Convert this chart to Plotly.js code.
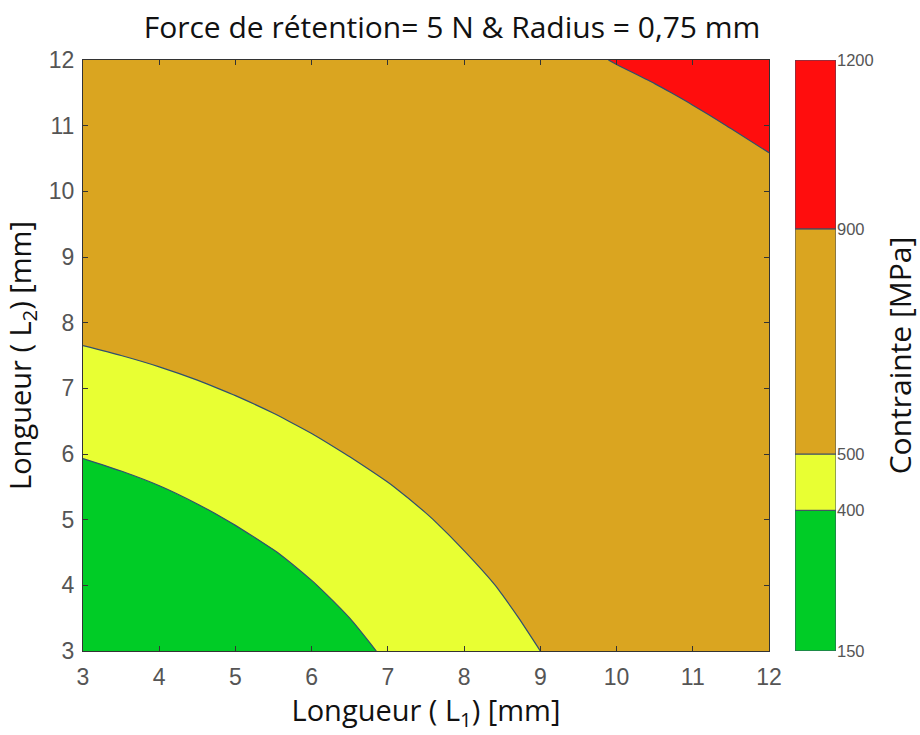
<!DOCTYPE html>
<html>
<head>
<meta charset="utf-8">
<script src="https://cdn.plot.ly/plotly-3.0.1.min.js"></script>
<style>html,body{margin:0;padding:0;background:#fff;}</style>
</head>
<body>
<div id="chart" style="width:920px;height:735px;"></div>
<script>
// Lengths L1 (x) and L2 (y), in mm
const L1 = [3, 3.5, 4, 4.5, 5, 5.5, 6, 6.5, 7, 7.5, 8, 8.5, 9, 9.5, 10, 10.5, 11, 11.5, 12];
const L2 = [3, 3.5, 4, 4.5, 5, 5.5, 6, 6.5, 7, 7.5, 8, 8.5, 9, 9.5, 10, 10.5, 11, 11.5, 12];
// Stress [MPa], one row per L2 value
const stress = [
  [242, 260, 278, 298, 318, 340, 361, 384, 407, 430, 453, 477, 500, 524, 549, 573, 597, 622, 647],
  [267, 283, 300, 318, 337, 358, 378, 400, 422, 444, 467, 490, 513, 536, 560, 584, 608, 632, 656],
  [293, 307, 323, 340, 358, 377, 397, 418, 438, 460, 482, 504, 527, 550, 573, 596, 620, 643, 667],
  [320, 333, 348, 364, 381, 398, 417, 437, 457, 477, 499, 520, 542, 564, 587, 610, 633, 656, 679],
  [347, 359, 373, 388, 404, 421, 439, 457, 476, 496, 517, 538, 559, 580, 602, 625, 647, 670, 693],
  [375, 387, 399, 413, 428, 444, 461, 479, 497, 516, 536, 556, 577, 598, 619, 641, 663, 685, 707],
  [404, 414, 426, 439, 453, 469, 485, 502, 519, 537, 556, 576, 596, 616, 637, 658, 679, 701, 723],
  [433, 442, 454, 466, 479, 494, 509, 525, 542, 559, 578, 596, 616, 635, 655, 676, 697, 718, 739],
  [462, 471, 481, 493, 506, 519, 534, 549, 565, 582, 600, 618, 636, 655, 675, 695, 715, 736, 757],
  [491, 500, 510, 521, 533, 546, 560, 574, 590, 606, 623, 640, 658, 676, 695, 715, 734, 755, 775],
  [521, 529, 538, 549, 560, 572, 586, 600, 615, 630, 646, 663, 680, 698, 717, 735, 755, 774, 794],
  [550, 558, 567, 577, 588, 600, 612, 626, 640, 655, 670, 687, 703, 721, 738, 757, 775, 794, 814],
  [580, 588, 596, 606, 616, 627, 639, 652, 666, 680, 695, 711, 727, 744, 761, 779, 797, 815, 834],
  [610, 617, 625, 634, 644, 655, 667, 679, 692, 706, 720, 735, 751, 767, 784, 801, 819, 837, 856],
  [640, 647, 655, 663, 673, 683, 694, 706, 719, 732, 746, 761, 776, 791, 808, 824, 842, 859, 877],
  [671, 677, 684, 693, 702, 712, 722, 734, 746, 759, 772, 786, 801, 816, 832, 848, 865, 879, 896],
  [701, 707, 714, 722, 731, 740, 750, 761, 773, 785, 799, 812, 826, 841, 856, 872, 885, 902, 919],
  [731, 737, 744, 751, 760, 769, 779, 789, 801, 813, 825, 838, 852, 867, 881, 893, 909, 925, 942],
  [762, 767, 774, 781, 789, 798, 807, 818, 829, 840, 852, 865, 878, 889, 903, 918, 933, 949, 965]
];
// Colour bands: limits and colours
const bandLimits = [150, 400, 500, 900, 1200];
const bandColors = ['#00cc26', '#e8ff33', '#daa520', '#ff0d0d'];
const tickValsL = [3, 4, 5, 6, 7, 8, 9, 10, 11, 12];
const tickLabelsL = ['3', '4', '5', '6', '7', '8', '9', '10', '11', '12'];

const lineColor = '#2f4f6f';
const traces = [];
// each band: fill the region z >= its lower limit (constraint "<" shades the violating side)
for (let i = 0; i < bandColors.length; i++) {
  traces.push({
    type: 'contour', x: L1, y: L2, z: stress,
    contours: {type: 'constraint', operation: '<', value: bandLimits[i]},
    fillcolor: bandColors[i],
    line: {color: lineColor, width: i === 0 ? 0 : 1.2, smoothing: 0.6},
    showscale: false, hoverinfo: 'skip', xaxis: 'x', yaxis: 'y'
  });
}
// Colour bar drawn as stacked bar segments
traces.push({
  type: 'bar', x: bandColors.map(() => 'cb'),
  base: bandLimits.slice(0, -1),
  y: bandLimits.slice(1).map((v, i) => v - bandLimits[i]),
  marker: {color: bandColors, line: {color: '#3a4a66', width: 1}},
  xaxis: 'x2', yaxis: 'y2', hoverinfo: 'skip', width: 1
});

const tickFont = {family: 'Liberation Sans, Arial, sans-serif', size: 23, color: '#555'};
const titleFont = {family: 'Open Sans, sans-serif', size: 29, color: '#111'};
const layout = {
  width: 920, height: 735,
  margin: {l: 0, r: 0, t: 0, b: 0},
  paper_bgcolor: '#fff', plot_bgcolor: '#00cc26',
  showlegend: false, bargap: 0,
  title: {text: 'Force de rétention= 5 N & Radius = 0,75 mm', font: {family: 'Open Sans, sans-serif', size: 30, color: '#111'},
          x: 452 / 920, xanchor: 'center', xref: 'paper', y: 1 - 27 / 735, yanchor: 'middle', yref: 'container'},
  xaxis: {domain: [83 / 920, 769 / 920], range: [3, 12], tickvals: tickValsL, ticktext: tickLabelsL,
          ticks: 'inside', ticklen: 5, tickcolor: '#333', showline: true, linecolor: '#333', linewidth: 1, mirror: 'ticks',
          showgrid: false, zeroline: false, tickfont: tickFont, ticklabelstandoff: 5,
          title: {text: 'Longueur ( L<sub>1</sub>) [mm]', font: titleFont, standoff: 6}},
  yaxis: {domain: [1 - 651 / 735, 1 - 60 / 735], range: [3, 12], tickvals: tickValsL, ticktext: tickLabelsL,
          ticks: 'inside', ticklen: 5, tickcolor: '#333', showline: true, linecolor: '#333', linewidth: 1, mirror: 'ticks',
          showgrid: false, zeroline: false, tickfont: tickFont, ticklabelstandoff: 3,
          title: {text: 'Longueur ( L<sub>2</sub>) [mm]', font: titleFont, standoff: 8}},
  xaxis2: {domain: [795 / 920, 836 / 920], anchor: 'y2', range: [-0.5, 0.5], showticklabels: false, ticks: '',
           showgrid: false, zeroline: false, showline: false, fixedrange: true},
  yaxis2: {domain: [1 - 651 / 735, 1 - 60 / 735], anchor: 'x2', side: 'right', range: [bandLimits[0], bandLimits[bandLimits.length - 1]],
           tickvals: bandLimits, ticks: '', showgrid: false, zeroline: false, showline: false,
           tickfont: {family: 'Liberation Sans, Arial, sans-serif', size: 16.5, color: '#555'},
           title: {text: 'Contrainte [MPa]', font: {family: 'Open Sans, sans-serif', size: 30, color: '#111'}, standoff: 22}}
};
Plotly.newPlot('chart', traces, layout, {displayModeBar: false, staticPlot: true});
</script>
</body>
</html>
